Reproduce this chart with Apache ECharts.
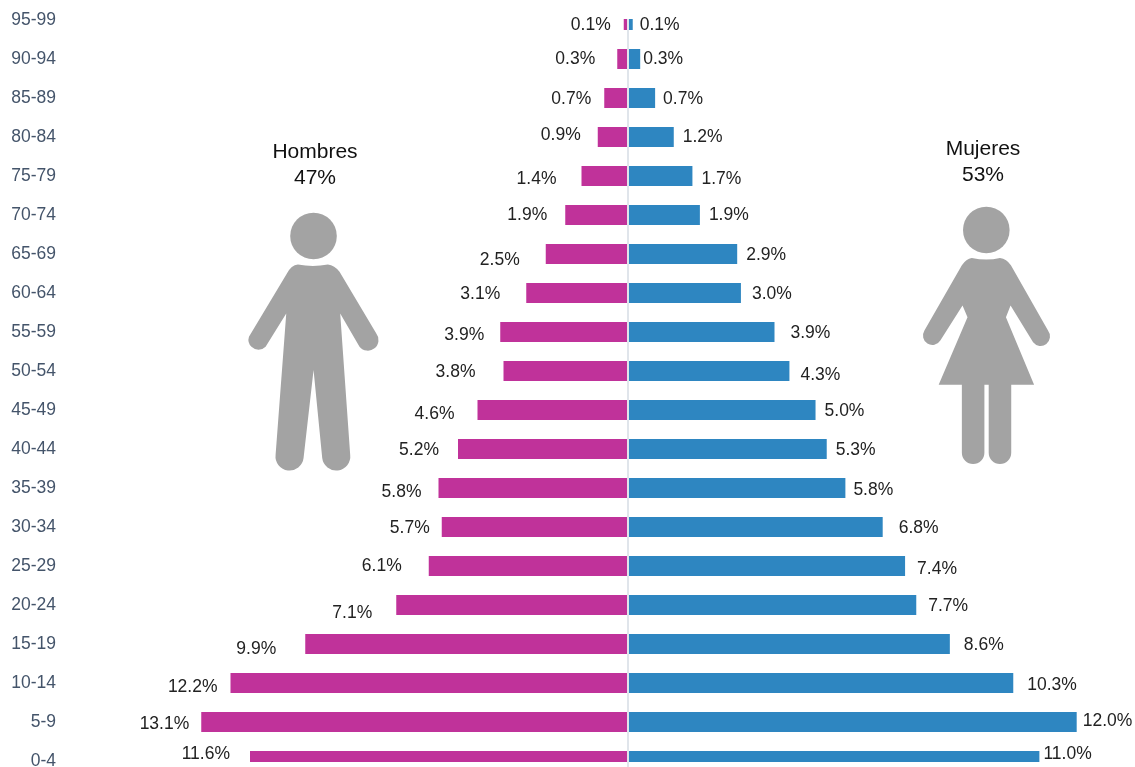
<!DOCTYPE html>
<html>
<head>
<meta charset="utf-8">
<style>html,body{margin:0;padding:0;background:#fff;height:767px;overflow:hidden}#c{width:1135px;height:790px}</style>
<script src="https://cdn.jsdelivr.net/npm/echarts@6/dist/echarts.min.js"></script>
</head>
<body>
<div id="c"></div>
<script>
const ageGroups = ['0-4','5-9','10-14','15-19','20-24','25-29','30-34','35-39','40-44','45-49','50-54','55-59','60-64','65-69','70-74','75-79','80-84','85-89','90-94','95-99'];
const hombres = [11.6,13.1,12.2,9.9,7.1,6.1,5.7,5.8,5.2,4.6,3.8,3.9,3.1,2.5,1.9,1.4,0.9,0.7,0.3,0.1];
const mujeres = [11.0,12.0,10.3,8.6,7.7,7.4,6.8,5.8,5.3,5.0,4.3,3.9,3.0,2.9,1.9,1.7,1.2,0.7,0.3,0.1];

// label placement of the reference (gap from bar end, vertical shift)
const gapH = [20,12,13,29,24,27,12,17,19,23,28,16,26,26,18,25,17,13,22,13];
const dyH  = [-7,2,4,5,8,0,1,4,1,4,1,3,1,6,0,3,-2,1,0,5];
const gapM = [4,6,14,14,12,12,16,8,9,9,11,16,11,9,9,9,9,8,3,7];
const dyM  = [-7,-1,2,1,1,3,1,2,1,1,4,1,1,1,0,3,0,1,0,5];

const FONT = '"Liberation Sans", Arial, sans-serif';
const GREY = '#a3a3a3';

function items(values, gaps, dys, pos) {
  return values.map((v, i) => ({
    value: v,
    label: { show: true, position: pos, distance: gaps[i], offset: [0, dys[i]],
             formatter: v.toFixed(1) + '%', color: '#222', fontFamily: FONT, fontSize: 17.5 }
  }));
}

const male = 'M205 403 Q250 412 295 403 Q315 405 330 425 L440 610 A30 30 0 0 1 390 650 L332 550 L362 975 A42 42 0 0 1 278 985 L252 720 L222 985 A42 42 0 0 1 138 975 L170 550 L108 650 A30 30 0 0 1 58 620 L172 430 Q185 405 205 403 Z';
const female = 'M215 383 Q260 392 300 383 Q320 385 333 405 L445 600 A28 28 0 0 1 400 635 L332 525 L318 560 L403 762 L334 762 L334 965 A34 34 0 0 1 266 965 L266 762 L253 762 L253 965 A34 34 0 0 1 185 965 L185 762 L115 762 L202 560 L187 525 L120 630 A28 28 0 0 1 72 600 L185 405 Q198 385 215 383 Z';

function figures() {
  return { type: 'group', children: [
    { type: 'circle', shape: { cx: 313.5, cy: 236, r: 23.3 }, style: { fill: GREY } },
    { type: 'path', shape: { pathData: male, x: 248.5, y: 264.5, width: 130, height: 206, layout: 'cover' }, style: { fill: GREY } },
    { type: 'circle', shape: { cx: 986.3, cy: 230, r: 23.3 }, style: { fill: GREY } },
    { type: 'path', shape: { pathData: female, x: 923, y: 258, width: 127, height: 206, layout: 'cover' }, style: { fill: GREY } }
  ] };
}

const chart = echarts.init(document.getElementById('c'), null, { renderer: 'canvas' });
chart.setOption({
  animation: false,
  backgroundColor: '#fff',
  grid: [
    { left: 188.25, width: 438.75, top: 0.5, height: 780, containLabel: false },
    { left: 629, width: 485, top: 0.5, height: 780, containLabel: false }
  ],
  xAxis: [
    { type: 'value', gridIndex: 0, min: 0, max: 13.5, inverse: true, show: false },
    { type: 'value', gridIndex: 1, min: 0, max: 13, show: false }
  ],
  yAxis: [
    { type: 'category', gridIndex: 0, data: ageGroups,
      axisLine: { show: false, onZero: false }, axisTick: { show: false },
      axisLabel: { interval: 0, margin: 132.25, color: '#44546a', fontFamily: FONT, fontSize: 17.5 } },
    { type: 'category', gridIndex: 1, data: ageGroups,
      axisLine: { show: false }, axisTick: { show: false }, axisLabel: { show: false } }
  ],
  series: [
    { name: 'Hombres', type: 'bar', xAxisIndex: 0, yAxisIndex: 0, barWidth: 20, clip: false,
      itemStyle: { color: '#c0329a' }, data: items(hombres, gapH, dyH, 'left') },
    { name: 'Mujeres', type: 'bar', xAxisIndex: 1, yAxisIndex: 1, barWidth: 20, clip: false,
      itemStyle: { color: '#2e86c1' }, data: items(mujeres, gapM, dyM, 'right') },
    { name: 'Figuras', type: 'custom', coordinateSystem: 'none', data: [0], silent: true, renderItem: figures }
  ],
  graphic: { elements: [
    // the reference crops the first and last rows
    { type: 'rect', z: 100, shape: { x: 612, y: 0, width: 26, height: 19 }, style: { fill: '#fff' } },
    { type: 'rect', z: 100, shape: { x: 200, y: 762, width: 900, height: 28 }, style: { fill: '#fff' } },
    { type: 'line', z: 101, shape: { x1: 628, y1: 19, x2: 628, y2: 767 }, style: { stroke: '#d6dce5', lineWidth: 1.5 } },
    { type: 'text', z: 102, x: 315, y: 139, style: { text: 'Hombres\n47%', fill: '#111', font: '21px ' + FONT, align: 'center', lineHeight: 26 } },
    { type: 'text', z: 102, x: 983, y: 136, style: { text: 'Mujeres\n53%', fill: '#111', font: '21px ' + FONT, align: 'center', lineHeight: 26 } }
  ] }
});
</script>
</body>
</html>
